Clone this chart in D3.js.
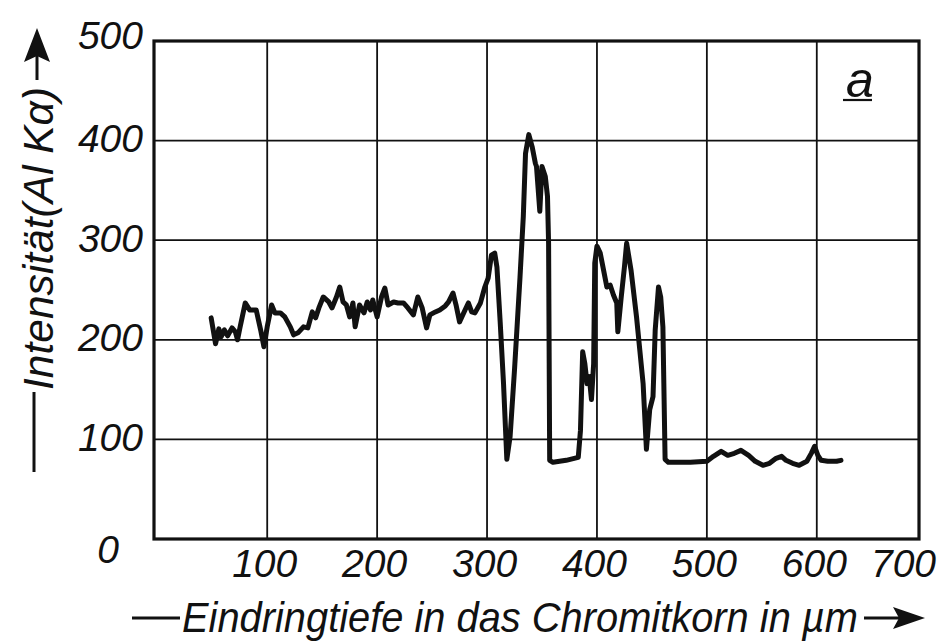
<!DOCTYPE html>
<html>
<head>
<meta charset="utf-8">
<script src="https://cdn.jsdelivr.net/npm/d3@7"></script>
<style>
  html, body { margin: 0; padding: 0; background: #fff; }
  svg { display: block; }
  .lbl { font-family: "Liberation Sans", "DejaVu Sans", sans-serif; font-style: italic; fill: #111; }
</style>
</head>
<body>
<svg id="chart" width="937" height="641"></svg>
<script>
// Penetration depth into the chromite grain (µm) and Al Kα intensity
const depth = [
  49, 53, 56, 58, 61, 64, 68, 71, 73, 75, 80, 84, 90, 94, 97, 100, 104, 107, 112, 116,
  121, 124, 128, 133, 137, 141, 144, 147, 151, 156, 159, 163, 166, 169, 172, 175, 178, 180, 184, 188,
  191, 194, 196, 200, 204, 207, 210, 215, 219, 224, 228, 233, 237, 241, 245, 248, 253, 257, 262, 265,
  269, 272, 275, 280, 283, 286, 289, 294, 298, 301, 304, 307, 309, 312, 315, 318, 321, 325, 330, 333,
  335, 338, 341, 344, 345, 348, 350, 353, 355, 356, 357, 360, 372, 383, 385, 387, 389, 391, 393, 395,
  397, 398, 400, 403, 406, 409, 412, 415, 418, 419, 422, 425, 427, 431, 436, 442, 445, 448, 451, 453,
  456, 458, 460, 462, 465, 485, 500, 506, 513, 519, 525, 531, 538, 544, 551, 557, 563, 568, 572, 578,
  584, 591, 595, 598, 601, 604, 610, 618, 622
];
const intensity = [
  222, 196, 211, 203, 210, 204, 212, 208, 200, 211, 237, 230, 230, 210, 193, 213, 235, 227, 227, 223,
  213, 205, 207, 213, 212, 228, 222, 232, 243, 238, 232, 243, 253, 238, 235, 223, 237, 213, 235, 227,
  238, 230, 240, 223, 243, 252, 235, 238, 237, 237, 232, 225, 243, 232, 212, 225, 228, 230, 234, 238,
  247, 234, 218, 230, 237, 228, 227, 237, 253, 262, 285, 287, 273, 217, 156, 80, 103, 170, 263, 324,
  387, 406, 394, 377, 374, 329, 374, 364, 344, 297, 79, 77, 79, 82, 109, 188, 176, 156, 163, 140,
  176, 277, 294, 287, 270, 253, 255, 245, 237, 208, 242, 273, 297, 270, 223, 156, 90, 130, 143, 210,
  253, 243, 213, 80, 77, 77, 78, 83, 88, 84, 86, 89, 84, 78, 74, 76, 81, 83, 79, 76,
  74, 78, 86, 93, 84, 79, 78, 78, 79
];

const depthTicks = [100, 200, 300, 400, 500, 600, 700];
const intensityTicks = [0, 100, 200, 300, 400, 500];

const xTitle = "Eindringtiefe in das Chromitkorn in µm";
const yTitle = "Intensität(Al Kα)";
const panelMark = "a";

const ink = "#111";
const svg = d3.select("#chart");

const x = d3.scaleLinear().domain([-3, 693]).range([154, 919]);
const y = d3.scaleLinear().domain([0, 500]).range([539, 41]);

// grid
const grid = svg.append("g");
grid.selectAll("line.v")
  .data(depthTicks.filter(d => d < 693))
  .join("line")
  .attr("x1", d => x(d)).attr("x2", d => x(d))
  .attr("y1", y(0)).attr("y2", y(500))
  .attr("stroke", ink).attr("stroke-width", 1.8);
grid.selectAll("line.h")
  .data(intensityTicks.filter(d => d > 0 && d < 500))
  .join("line")
  .attr("x1", x(-3)).attr("x2", x(693))
  .attr("y1", d => y(d)).attr("y2", d => y(d))
  .attr("stroke", ink).attr("stroke-width", 1.8);

// intensity trace
const pts = depth.map((d, i) => [d, intensity[i]]);
svg.append("path")
  .datum(pts)
  .attr("fill", "none")
  .attr("stroke", ink)
  .attr("stroke-width", 5)
  .attr("stroke-linejoin", "round")
  .attr("stroke-linecap", "round")
  .attr("d", d3.line().x(d => x(d[0])).y(d => y(d[1])));

// frame
svg.append("rect")
  .attr("x", x(-3)).attr("y", y(500))
  .attr("width", x(693) - x(-3)).attr("height", y(0) - y(500))
  .attr("fill", "none").attr("stroke", ink).attr("stroke-width", 3.2);

// x axis labels
const xAxis = svg.append("g")
  .attr("transform", `translate(0,${y(0)})`)
  .call(d3.axisBottom(x).tickValues(depthTicks).tickSize(0).tickPadding(0).tickFormat(d3.format("d")));
xAxis.select(".domain").remove();
xAxis.selectAll("text")
  .attr("class", "lbl")
  .attr("font-size", 39)
  .attr("dy", null)
  .attr("y", 38)
  .attr("x", d => Math.min(0, x(693) - 13 - x(d)) - 3)
  .attr("text-anchor", "middle");

// y axis labels
const yAxis = svg.append("g")
  .attr("transform", `translate(${x(-3)},0)`)
  .call(d3.axisLeft(y).tickValues(intensityTicks).tickSize(0).tickPadding(0).tickFormat(d3.format("d")));
yAxis.select(".domain").remove();
yAxis.selectAll("text")
  .attr("class", "lbl")
  .attr("font-size", 39)
  .attr("dy", null)
  .attr("text-anchor", "end")
  .attr("x", d => d === 0 ? -35 : -11)
  .attr("y", d => d === 0 ? 23 : (d === 500 ? 7 : 11));

// x axis title with leading rule and arrow
svg.append("line")
  .attr("x1", 132).attr("x2", 180).attr("y1", 618).attr("y2", 618)
  .attr("stroke", ink).attr("stroke-width", 3);
svg.append("text")
  .attr("class", "lbl")
  .attr("x", 182).attr("y", 632)
  .attr("font-size", 43)
  .attr("textLength", 676)
  .attr("lengthAdjust", "spacingAndGlyphs")
  .text(xTitle);
svg.append("line")
  .attr("x1", 864).attr("x2", 902).attr("y1", 618).attr("y2", 618)
  .attr("stroke", ink).attr("stroke-width", 3);
svg.append("path")
  .attr("d", "M925,618 L893,607 L899,618 L893,629 Z")
  .attr("fill", ink);

// y axis title with leading rule and arrow
svg.append("line")
  .attr("x1", 34).attr("x2", 34).attr("y1", 472).attr("y2", 392)
  .attr("stroke", ink).attr("stroke-width", 3);
svg.append("text")
  .attr("class", "lbl")
  .attr("transform", "translate(53,390) rotate(-90)")
  .attr("font-size", 43)
  .attr("textLength", 303)
  .attr("lengthAdjust", "spacingAndGlyphs")
  .text(yTitle);
svg.append("line")
  .attr("x1", 37).attr("x2", 37).attr("y1", 80).attr("y2", 55)
  .attr("stroke", ink).attr("stroke-width", 3);
svg.append("path")
  .attr("d", "M37,28 L24,62 L37,56 L50,62 Z")
  .attr("fill", ink);

// panel mark
svg.append("text")
  .attr("class", "lbl")
  .attr("x", 860).attr("y", 97)
  .attr("font-size", 50)
  .attr("text-anchor", "middle")
  .text(panelMark);
svg.append("line")
  .attr("x1", 843).attr("x2", 872).attr("y1", 100).attr("y2", 100)
  .attr("stroke", ink).attr("stroke-width", 2.2);
</script>
</body>
</html>
